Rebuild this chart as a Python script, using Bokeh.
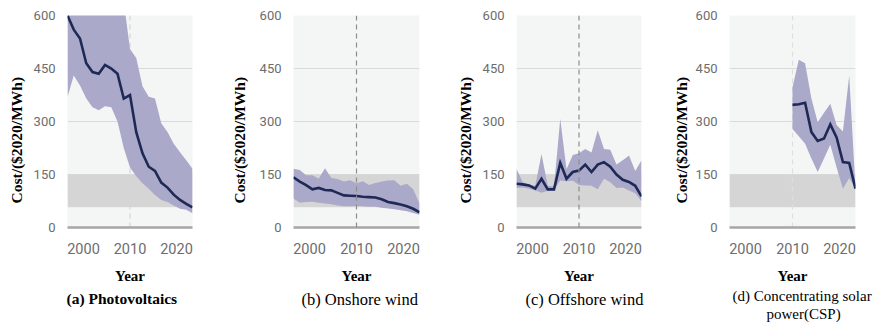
from bokeh.embed import file_html
from bokeh.layouts import row
from bokeh.models import (BoxAnnotation, FixedTicker, LinearAxis, Range1d,
                          Span, Title)
from bokeh.plotting import figure
from bokeh.resources import INLINE

# ---- data: levelised cost of electricity, $2020/MWh ----
years = list(range(2000, 2021))
csp_years = list(range(2010, 2021))

pv_mean = [600, 560, 535, 465, 440, 435, 460, 450, 435, 365, 375,
           270, 210, 172, 160, 127, 113, 93, 78, 67, 57]
pv_low = [369, 430, 402, 365, 340, 332, 343, 340, 300, 225, 170,
          145, 125, 110, 92, 78, 72, 62, 53, 50, 40]
pv_high = [640, 640, 640, 640, 640, 640, 640, 640, 640, 640, 505,
           480, 400, 370, 365, 295, 270, 237, 213, 190, 166]

onshore_mean = [142, 130, 120, 108, 112, 106, 105, 98, 91, 90, 89,
                87, 86, 85, 80, 72, 69, 65, 60, 53, 43]
onshore_low = [82, 70, 72, 73, 70, 68, 66, 62, 60, 60, 61,
               60, 59, 59, 56, 54, 52, 49, 46, 41, 36]
onshore_high = [166, 163, 148, 148, 138, 168, 140, 137, 130, 134, 125,
                131, 120, 126, 130, 133, 134, 118, 124, 108, 68]

offshore_mean = [124, 122, 119, 110, 138, 108, 108, 183, 138, 157, 161,
                 178, 157, 178, 185, 172, 150, 135, 129, 118, 88]
offshore_low = [112, 113, 110, 105, 98, 104, 106, 133, 131, 132, 120,
                119, 118, 108, 138, 128, 112, 113, 105, 97, 74]
offshore_high = [166, 128, 122, 118, 208, 118, 116, 308, 165, 205, 210,
                 222, 212, 275, 222, 220, 178, 190, 204, 160, 190]

csp_mean = [347, 349, 353, 270, 245, 252, 292, 255, 185, 183, 110]
csp_low = [279, 258, 237, 195, 157, 195, 234, 170, 110, 140, 108]
csp_high = [397, 475, 465, 365, 298, 325, 350, 290, 272, 430, 112]

fossil_low, fossil_high = 57, 150
y_ticks = [0, 150, 300, 450, 600]
x_ticks = [2000, 2010, 2020]
panel_titles = [["(a) Photovoltaics"],
                ["(b) Onshore wind"],
                ["(c) Offshore wind"],
                ["(d) Concentrating solar", "power(CSP)"]]
y_title = "Cost/($2020/MWh)"
x_title = "Year"

series = [
    (years, pv_mean, pv_low, pv_high),
    (years, onshore_mean, onshore_low, onshore_high),
    (years, offshore_mean, offshore_low, offshore_high),
    (csp_years, csp_mean, csp_low, csp_high),
]

# ---- layout / style ----
FRAME_H = 212
TOP = 15
X0, X1 = 2000, 2020
Y0, Y1 = 0, 600
TICK_INSET = 16          # px: outer year labels sit inside the frame edges

# (figure width, left border, frame width, y-title standoff)
layout_spec = [
    (220, 67, 125, 10),
    (220, 73, 126, 16),
    (220, 76, 125, 9),
    (221, 69, 126, 3),
]
# caption lines: (left offset px from frame, standoff)
caption_spec = [
    [(-1, 5)],
    [(8, 5)],
    [(9, 5)],
    [(3, 0), (37, 0)],
]
# caption font: (size, weight)
caption_font = [
    ("15.5px", "bold"),
    ("16.5px", "normal"),
    ("16.5px", "normal"),
    ("15px", "normal"),
]
dash_style = [("#d6d6d6", "underlay"), ("#8c8c8c", "overlay"),
              ("#8c8c8c", "overlay"), ("#dedede", "underlay")]

BAND = "#aba9c9"
LINE = "#1e2a55"
FOSSIL = "#d5d5d5"
BG = "#f4f6f6"
GRID = "#d9dada"
AXIS = "#a6a6a6"
TICK_TXT = "#6d6d6d"
SERIF = "Liberation Serif"
SANS = "Roboto"


def make_panel(i):
    fw, bl, frame_w, ytitle_standoff = layout_spec[i]
    xs, mean, low, high = series[i]

    p = figure(frame_width=frame_w, frame_height=FRAME_H,
               min_border_left=bl, min_border_right=fw - bl - frame_w,
               min_border_top=TOP, min_border_bottom=0,
               x_range=Range1d(X0, X1), y_range=Range1d(Y0, Y1),
               x_axis_location=None,
               output_backend="svg", toolbar_location=None)
    p.outline_line_color = None
    p.background_fill_color = BG
    p.border_fill_color = "white"

    # year axis on a slightly widened range so that the first and last
    # labels fit inside the frame
    pad = TICK_INSET * (X1 - X0) / (frame_w - 2 * TICK_INSET)
    p.extra_x_ranges = {"labels": Range1d(X0 - pad, X1 + pad)}
    xaxis = LinearAxis(x_range_name="labels",
                       ticker=FixedTicker(ticks=x_ticks))
    xaxis.major_tick_line_color = None
    xaxis.minor_tick_line_color = None
    xaxis.major_tick_in = 0
    xaxis.major_tick_out = 0
    xaxis.major_label_standoff = 15
    xaxis.major_label_text_font = SANS
    xaxis.major_label_text_font_size = "14.5px"
    xaxis.major_label_text_color = TICK_TXT
    xaxis.axis_line_color = AXIS
    xaxis.axis_line_width = 2.5
    xaxis.axis_label = x_title
    xaxis.axis_label_standoff = 11
    xaxis.axis_label_text_font = SERIF
    xaxis.axis_label_text_font_style = "bold"
    xaxis.axis_label_text_font_size = "15px"
    xaxis.axis_label_text_color = "black"
    p.add_layout(xaxis, "below")

    p.xgrid.visible = False
    p.ygrid.ticker = FixedTicker(ticks=y_ticks)
    p.ygrid.grid_line_color = GRID
    p.ygrid.grid_line_width = 1

    p.yaxis.ticker = FixedTicker(ticks=y_ticks)
    p.yaxis.axis_line_color = None
    p.yaxis.major_tick_line_color = None
    p.yaxis.minor_tick_line_color = None
    p.yaxis.major_tick_in = 0
    p.yaxis.major_tick_out = 0
    p.yaxis.major_label_standoff = 12
    p.yaxis.major_label_text_font = SANS
    p.yaxis.major_label_text_font_size = "13px"
    p.yaxis.major_label_text_color = TICK_TXT

    # y title: starts a little above the frame bottom
    p.add_layout(Title(text=y_title, align="left", offset=24,
                       vertical_align="middle", standoff=ytitle_standoff,
                       text_font=SERIF, text_font_style="bold",
                       text_font_size="15.5px", text_color="black"), "left")

    # fossil-fuel cost range
    p.add_layout(BoxAnnotation(bottom=fossil_low, top=fossil_high,
                               fill_color=FOSSIL, fill_alpha=1,
                               line_color=None, level="underlay"))

    # 2010 reference line
    col, lvl = dash_style[i]
    p.add_layout(Span(location=2010, dimension="height", line_color=col,
                      line_width=1.2, line_dash="5 4", level=lvl))

    # uncertainty range and mean
    p.varea(x=xs, y1=low, y2=high, fill_color=BAND, fill_alpha=1)
    p.line(x=xs, y=mean, line_color=LINE, line_width=2.6,
           line_join="miter")

    # panel caption
    size, weight = caption_font[i]
    for text, (off, st) in zip(panel_titles[i], caption_spec[i]):
        p.add_layout(Title(text=text, align="left", offset=off,
                           vertical_align="middle", standoff=st,
                           text_font=SERIF, text_font_style=weight,
                           text_font_size=size, text_color="black"), "below")
    return p


panels = [make_panel(i) for i in range(4)]
layout = row(*panels)

open("out.html", "w").write(file_html(layout, INLINE))
